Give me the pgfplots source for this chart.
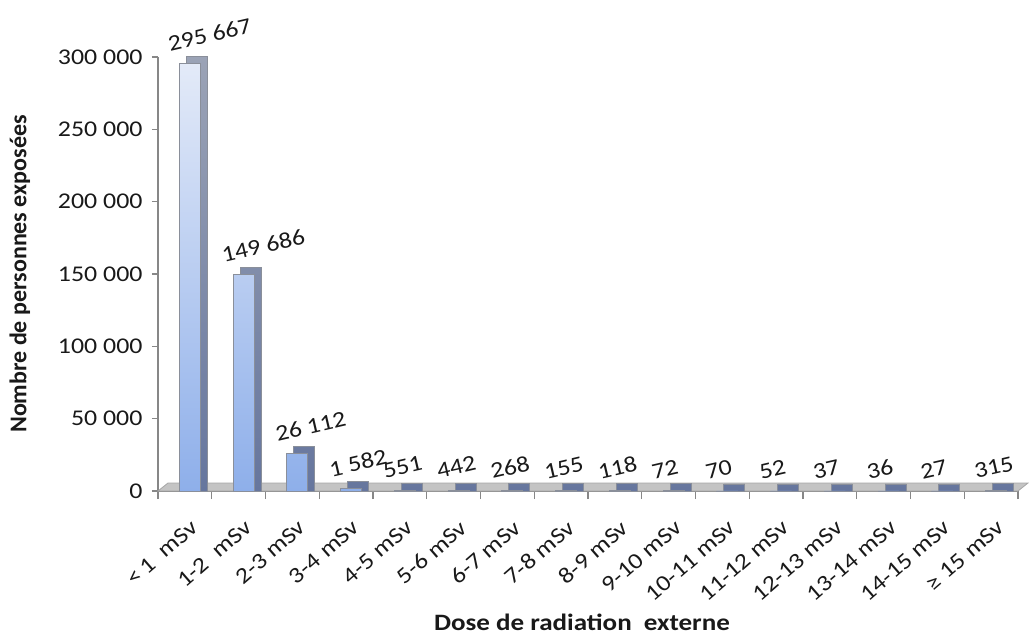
\documentclass[border=0pt]{standalone}
\usepackage{fontspec}
\setmainfont{Carlito}[FakeStretch=1.15]
\newfontfamily\plainfont{Carlito}
\usepackage{pgfplots}
\pgfplotsset{compat=1.18}
\usepackage{pgfplotstable}
\pgfplotstableread{
x v lab
0 295667 295~667
1 149686 149~686
2 26112 26~112
3 1582 1~582
4 551 551
5 442 442
6 268 268
7 155 155
8 118 118
9 72 72
10 70 70
11 52 52
12 37 37
13 36 36
14 27 27
15 315 315
}\dosedata
\definecolor{frontTop}{HTML}{E3EAF8}
\definecolor{frontBot}{HTML}{8EAFEA}
\definecolor{sideTop}{HTML}{9BA3B6}
\definecolor{sideBot}{HTML}{66769E}
\definecolor{axisgray}{HTML}{878787}
\definecolor{edgegray}{HTML}{8A8F9A}
\definecolor{floorgray}{HTML}{C4C4C4}
\newcommand\tk{\fontsize{22.5}{26}\selectfont}
\newcommand\lb{\fontsize{23.5}{27}\selectfont\bfseries}
\begin{document}
\begin{tikzpicture}
\begin{axis}[
  scale only axis, width=860pt, height=434pt,
  at={(0,0)}, anchor=south west,
  xmin=-0.5, xmax=15.5, ymin=0, ymax=300000,
  clip=false,
  axis lines*=left,
  axis line style={draw=axisgray, line width=1.2pt},
  tick align=outside,
  tick style={draw=axisgray, line width=1.2pt},
  major tick length=6pt, minor tick length=8pt,
  xtick={0,...,15},
  xticklabels={{<\,1~~mSv},{1-2~~mSv},{2-3 mSv},{3-4 mSv},{4-5 mSv},{5-6 mSv},{6-7 mSv},{7-8 mSv},{8-9 mSv},{9-10 mSv},{10-11 mSv},{11-12 mSv},{12-13 mSv},{13-14 mSv},{14-15 mSv},{≥ 15 mSv}},
  major x tick style={draw=none},
  minor xtick={-0.5,0.5,...,15.5},
  scaled y ticks=false,
  ytick={0,50000,100000,150000,200000,250000,300000},
  yticklabels={0,50~000,100~000,150~000,200~000,250~000,300~000},
  tick label style={font=\tk, text=black!90},
  yticklabel style={xshift=-6pt},
  xticklabel style={xshift=5pt, yshift=-17pt, rotate=41, anchor=north east},
  label style={text=black!90},
  xlabel={Dose de radiation~~externe},
  ylabel={Nombre de personnes exposées},
  xlabel style={font=\lb, at={(axis description cs:0.493,-0.3018)}, anchor=center},
  ylabel style={font=\plainfont\fontsize{24}{28}\selectfont\bfseries, at={(axis description cs:-0.1605,0.5)}, anchor=center},
]
\fill[floorgray, draw=gray!70, line width=0.8pt] (axis cs:-0.5,0) -- (axis cs:15.5,0) -- ([shift={(10pt,8pt)}]axis cs:15.5,0) -- ([shift={(10pt,8pt)}]axis cs:-0.5,0) -- cycle;
\addplot[ybar, bar width=21pt, bar shift=12pt, draw=edgegray, line width=0.8pt, top color=sideTop, bottom color=sideBot]
  table[x=x, y expr=\thisrow{v}+4838] {\dosedata};
\addplot[ybar, bar width=21pt, bar shift=5pt, draw=edgegray, line width=0.8pt, top color=frontTop, bottom color=frontBot,
  point meta=explicit symbolic,
  nodes near coords,
  every node near coord/.append style={xshift=-15pt, yshift=11pt, rotate=13, anchor=south west, inner sep=0pt, font=\tk, text=black!90}]
  table[x=x, y=v, meta=lab] {\dosedata};
\end{axis}
\pgfresetboundingbox
\path (-158pt,-146pt) rectangle (872pt,491pt);
\end{tikzpicture}
\end{document}
